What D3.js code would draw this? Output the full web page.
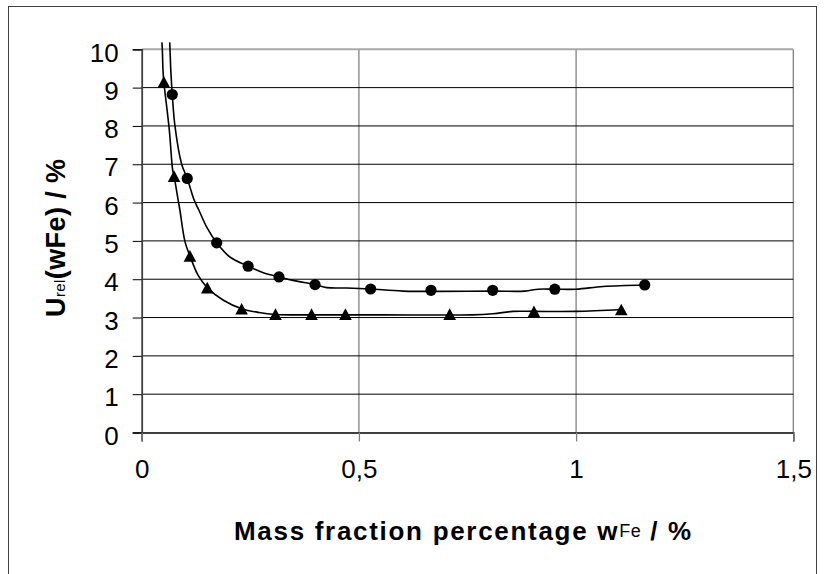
<!DOCTYPE html>
<html>
<head>
<meta charset="utf-8">
<script src="https://cdn.jsdelivr.net/npm/d3@7/dist/d3.min.js"></script>
<style>
  html, body { margin: 0; padding: 0; background: #fff; }
  svg { display: block; font-family: "Liberation Sans", Arial, sans-serif; }
</style>
</head>
<body>
<svg id="chart" width="825" height="574"></svg>
<script>
// Axis ticks
const xTicks = [0, 0.5, 1, 1.5];
const yTicks = [0, 1, 2, 3, 4, 5, 6, 7, 8, 9, 10];

// Measured points: circle series
const circleX = [0.0704, 0.1048, 0.1726, 0.245, 0.316, 0.399, 0.527, 0.666, 0.808, 0.951, 1.158];
const circleY = [8.82, 6.63, 4.95, 4.34, 4.06, 3.86, 3.745, 3.71, 3.71, 3.74, 3.85];

// Measured points: triangle series
const triX = [0.051, 0.0745, 0.111, 0.151, 0.230, 0.308, 0.391, 0.469, 0.709, 0.903, 1.104];
const triY = [9.15, 6.69, 4.61, 3.78, 3.23, 3.09, 3.09, 3.09, 3.09, 3.16, 3.21];

// Fitted curve through the circle series
const circleFitX = [0.0645, 0.0655, 0.0672, 0.0704, 0.0765, 0.092, 0.1048, 0.121, 0.1318, 0.150, 0.1726, 0.203, 0.245, 0.280, 0.316, 0.357, 0.399, 0.426, 0.472, 0.527, 0.602, 0.808, 0.882, 0.913, 0.951, 1.0, 1.062, 1.158];
const circleFitY = [10.18, 9.9, 9.4, 8.82, 8.0, 7.0, 6.63, 6.06, 5.80, 5.35, 4.95, 4.58, 4.34, 4.17, 4.06, 3.95, 3.86, 3.78, 3.77, 3.745, 3.69, 3.69, 3.69, 3.74, 3.74, 3.74, 3.81, 3.85];

// Fitted curve through the triangle series
const triFitX = [0.0465, 0.0475, 0.049, 0.051, 0.0635, 0.0713, 0.0745, 0.084, 0.088, 0.0996, 0.111, 0.13, 0.151, 0.188, 0.23, 0.27, 0.308, 0.40, 0.55, 0.76, 0.809, 0.855, 0.903, 1.0, 1.104];
const triFitY = [10.18, 10.0, 9.46, 9.15, 7.9, 6.85, 6.69, 6.06, 5.80, 4.98, 4.61, 4.1, 3.78, 3.45, 3.23, 3.13, 3.08, 3.07, 3.07, 3.07, 3.10, 3.16, 3.16, 3.16, 3.21];

const svg = d3.select("#chart");
const plot = { left: 141.7, top: 49.3, right: 793.3, bottom: 432.5 };

const x = d3.scaleLinear().domain([0, 1.5]).range([plot.left, plot.right]);
const y = d3.scaleLinear().domain([0, 10]).range([plot.bottom, plot.top]);
const fmt = d => String(d).replace(".", ",");

// Outer frame
svg.append("rect")
  .attr("x", 8.5).attr("y", 6.5)
  .attr("width", 808).attr("height", 620)
  .attr("fill", "none").attr("stroke", "#404040").attr("stroke-width", 1);

// Vertical grid lines (grey)
svg.append("g")
  .selectAll("line")
  .data(xTicks.slice(1))
  .join("line")
  .attr("x1", d => x(d)).attr("x2", d => x(d))
  .attr("y1", plot.top).attr("y2", plot.bottom)
  .attr("stroke", "#808080").attr("stroke-width", 1.3);

// Horizontal grid lines (black)
svg.append("g")
  .selectAll("line")
  .data(yTicks.slice(1, -1))
  .join("line")
  .attr("x1", plot.left).attr("x2", plot.right)
  .attr("y1", d => y(d)).attr("y2", d => y(d))
  .attr("stroke", "#000").attr("stroke-width", 1);

// Top edge of plot area
svg.append("line")
  .attr("x1", plot.left).attr("x2", plot.right)
  .attr("y1", plot.top).attr("y2", plot.top)
  .attr("stroke", "#a8a8a8").attr("stroke-width", 2);

// Y axis
const yAxis = svg.append("g")
  .attr("transform", `translate(${plot.left},0)`)
  .call(d3.axisLeft(y).tickValues(yTicks).tickSize(9).tickPadding(14).tickFormat(fmt));
yAxis.select(".domain").attr("stroke", "#404040").attr("stroke-width", 1.8);
yAxis.selectAll(".tick line").attr("stroke", "#000");
yAxis.selectAll(".tick text")
  .attr("font-family", "Liberation Sans, Arial, sans-serif")
  .attr("font-size", 26).attr("fill", "#000")
  .attr("dy", "0.45em");

// X axis
const xAxis = svg.append("g")
  .attr("transform", `translate(0,${plot.bottom})`)
  .call(d3.axisBottom(x).tickValues(xTicks).tickSize(9).tickPadding(26).tickFormat(fmt));
xAxis.select(".domain").attr("stroke", "#000").attr("stroke-width", 1.5);
xAxis.selectAll(".tick line").attr("stroke", "#808080").attr("stroke-width", 1.3);
xAxis.selectAll(".tick text")
  .attr("font-family", "Liberation Sans, Arial, sans-serif")
  .attr("font-size", 26).attr("fill", "#000")
  .attr("dy", "0.4em");

// Fitted curves
const line = d3.line()
  .x(d => x(d[0])).y(d => y(d[1]))
  .curve(d3.curveCatmullRom.alpha(0.5));

svg.append("path")
  .datum(circleFitX.map((v, i) => [v, circleFitY[i]]))
  .attr("d", line)
  .attr("fill", "none").attr("stroke", "#000").attr("stroke-width", 1.6);

svg.append("path")
  .datum(triFitX.map((v, i) => [v, triFitY[i]]))
  .attr("d", line)
  .attr("fill", "none").attr("stroke", "#000").attr("stroke-width", 1.6);

// Circle markers
svg.append("g")
  .selectAll("circle")
  .data(circleX.map((v, i) => [v, circleY[i]]))
  .join("circle")
  .attr("cx", d => x(d[0])).attr("cy", d => y(d[1]))
  .attr("r", 5.6).attr("fill", "#000");

// Triangle markers
const tw = 12.6, th = 11.6;
svg.append("g")
  .selectAll("path")
  .data(triX.map((v, i) => [v, triY[i]]))
  .join("path")
  .attr("d", d => {
    const cx = x(d[0]), cy = y(d[1]);
    return `M${cx},${cy - th / 2}L${cx + tw / 2},${cy + th / 2}L${cx - tw / 2},${cy + th / 2}Z`;
  })
  .attr("fill", "#000");

// X axis title
const xt = svg.append("text")
  .attr("x", 234).attr("y", 540)
  .attr("font-family", "Liberation Sans, Arial, sans-serif")
  .attr("font-size", 26).attr("font-weight", "bold")
  .attr("letter-spacing", 1.7)
  .attr("fill", "#000");
xt.append("tspan").text("Mass fraction percentage w");
xt.append("tspan").attr("font-weight", "normal").attr("font-size", 18).attr("letter-spacing", 0.5).attr("dy", -3).text("Fe");
xt.append("tspan").attr("dy", 3).text(" / %");

// Y axis title
const yt = svg.append("text")
  .attr("transform", "translate(65,317) rotate(-90)")
  .attr("font-family", "Liberation Sans, Arial, sans-serif")
  .attr("font-size", 27).attr("font-weight", "bold")
  .attr("letter-spacing", 0.4)
  .attr("fill", "#000");
yt.append("tspan").text("U");
yt.append("tspan").attr("font-weight", "normal").attr("font-size", 15).text("rel");
yt.append("tspan").text("(wFe) / %");
</script>
</body>
</html>
